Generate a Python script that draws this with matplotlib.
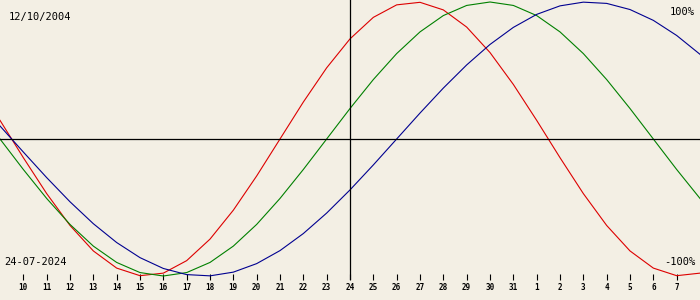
import numpy as np
import matplotlib
matplotlib.use('Agg')
import matplotlib.pyplot as plt

# days shown: 9 Jul .. 8 Aug 2024, index 15 = 24 Jul
day_labels = ['10', '11', '12', '13', '14', '15', '16', '17', '18', '19', '20',
              '21', '22', '23', '24', '25', '26', '27', '28', '29', '30', '31',
              '1', '2', '3', '4', '5', '6', '7']

# physical (23 d)
physical = [0.1362, -0.1362, -0.3984, -0.6311, -0.8170, -0.9423, -0.9977, -0.9791,
            -0.8879, -0.7308, -0.5196, -0.2698, 0.0, 0.2698, 0.5196, 0.7308,
            0.8879, 0.9791, 0.9977, 0.9423, 0.8170, 0.6311, 0.3984, 0.1362,
            -0.1362, -0.3984, -0.6311, -0.8170, -0.9423, -0.9977, -0.9791]
# emotional (28 d)
emotional = [0.0, -0.2225, -0.4339, -0.6235, -0.7818, -0.9010, -0.9749, -1.0,
             -0.9749, -0.9010, -0.7818, -0.6235, -0.4339, -0.2225, 0.0, 0.2225,
             0.4339, 0.6235, 0.7818, 0.9010, 0.9749, 1.0, 0.9749, 0.9010,
             0.7818, 0.6235, 0.4339, 0.2225, 0.0, -0.2225, -0.4339]
# intellectual (33 d)
intellectual = [0.0951, -0.0951, -0.2817, -0.4582, -0.6182, -0.7557, -0.8660, -0.9450,
                -0.9898, -0.9989, -0.9718, -0.9096, -0.8146, -0.6901, -0.5406, -0.3717,
                -0.1893, 0.0, 0.1893, 0.3717, 0.5406, 0.6901, 0.8146, 0.9096,
                0.9718, 0.9989, 0.9898, 0.9450, 0.8660, 0.7557, 0.6182]

birth = '12/10/2004'
today = '24-07-2024'

bg = '#f3efe4'
mono = 'DejaVu Sans Mono'

fig = plt.figure(figsize=(7, 3), dpi=100, facecolor=bg)
ax = fig.add_axes([0, 20 / 300, 1, 280 / 300])
ax.set_facecolor(bg)

x = np.arange(len(physical))
ax.plot(x, physical, color='#dd0000', lw=0.8)
ax.plot(x, emotional, color='#008000', lw=0.8)
ax.plot(x, intellectual, color='#000090', lw=0.8)

ax.axhline(0, color='black', lw=0.9)
ax.axvline(15, color='black', lw=0.9)

ax.set_xlim(0, 30)
ax.set_ylim(-141 / 137, 139 / 137)
ax.set_yticks([])
ax.set_xticks(np.arange(1, 30))
ax.set_xticklabels(day_labels, fontfamily=mono, fontsize=5.5, fontweight='bold')
ax.tick_params(axis='x', direction='in', length=4, width=0.8, pad=2.5, colors='black')
for s in ax.spines.values():
    s.set_visible(False)

fig.text(9 / 700, 1 - 17 / 300, birth, fontfamily=mono, fontsize=7.5, va='center', ha='left')
fig.text(4 / 700, 1 - 262 / 300, today, fontfamily=mono, fontsize=7.5, va='center', ha='left')
fig.text(695 / 700, 1 - 12 / 300, '100%', fontfamily=mono, fontsize=7.5, va='center', ha='right')
fig.text(695 / 700, 1 - 262 / 300, '-100%', fontfamily=mono, fontsize=7.5, va='center', ha='right')

fig.savefig('out.png', dpi=100, facecolor=bg)
